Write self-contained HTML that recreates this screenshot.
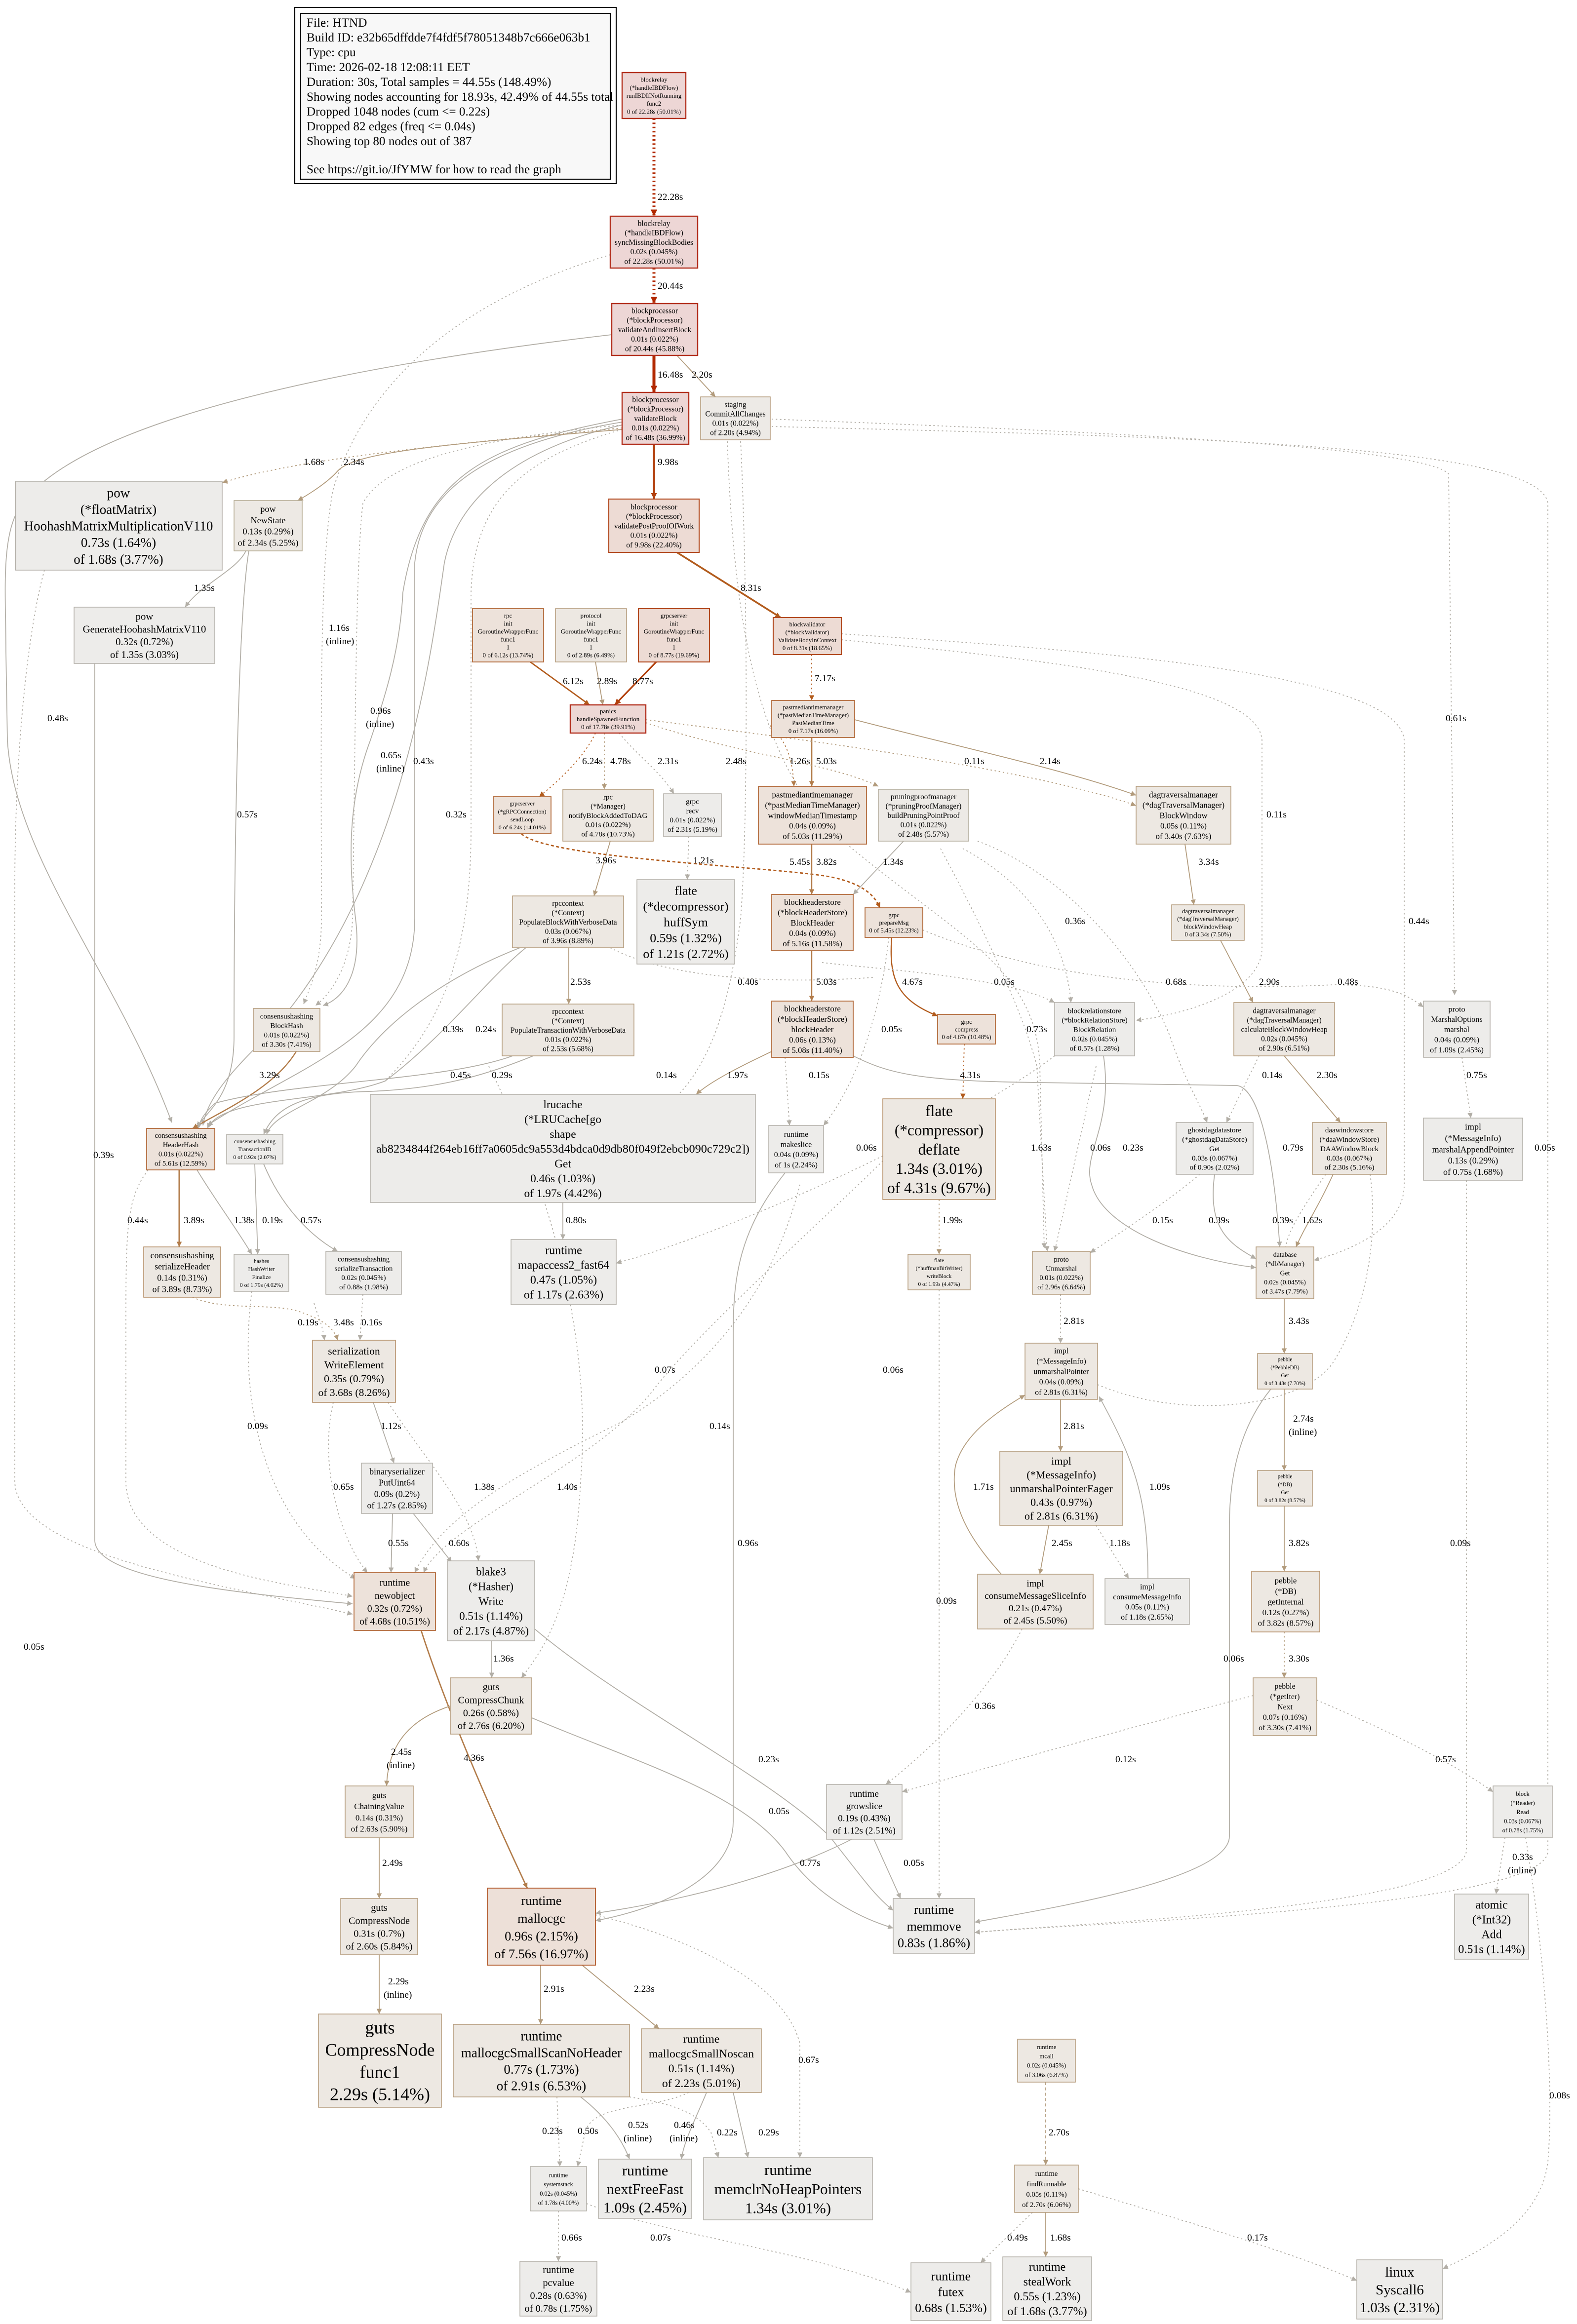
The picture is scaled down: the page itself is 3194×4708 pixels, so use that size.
<!DOCTYPE html>
<html><head><meta charset="utf-8"><style>
html,body{margin:0;padding:0;background:#fff;}
svg{display:block;}
text{font-family:"Liberation Serif",serif;fill:#000;text-anchor:middle;}
.lg text{text-anchor:start;}
.r{fill:#edd6d5;stroke:#b22e1c;stroke-width:0.8}
.o{fill:#eddbd4;stroke:#b2491f;stroke-width:0.7}
.o2{fill:#ede2da;stroke:#b26a3a;stroke-width:0.6}
.t{fill:#ede8e2;stroke:#b29878;stroke-width:0.5}
.g{fill:#edecea;stroke:#b2aea7;stroke-width:0.5}
.e{fill:none;}
.R{stroke:#b22800;} .RO{stroke:#b2400d;} .O{stroke:#b25b1c;} .OT{stroke:#b27c4a;} .T{stroke:#b29b7c;} .G{stroke:#b2aea6;}
.d{stroke-dasharray:1 1.8;}
.dd{stroke-dasharray:2 1.6;}
.l{font-size:6.5px;text-anchor:start;}
</style></head><body>
<svg width="3194" height="4708" viewBox="0 0 1064.667 1569.333" xmlns="http://www.w3.org/2000/svg">
<defs>
<marker id="mR" viewBox="0 0 10 10" refX="10" refY="5" markerUnits="userSpaceOnUse" markerWidth="5" markerHeight="4.5" orient="auto"><path d="M0,0L10,5L0,10z" fill="#b22800"/></marker>
<marker id="mRO" viewBox="0 0 10 10" refX="10" refY="5" markerUnits="userSpaceOnUse" markerWidth="5" markerHeight="4" orient="auto"><path d="M0,0L10,5L0,10z" fill="#b2400d"/></marker>
<marker id="mO" viewBox="0 0 10 10" refX="10" refY="5" markerUnits="userSpaceOnUse" markerWidth="4.5" markerHeight="3.5" orient="auto"><path d="M0,0L10,5L0,10z" fill="#b25b1c"/></marker>
<marker id="mOT" viewBox="0 0 10 10" refX="10" refY="5" markerUnits="userSpaceOnUse" markerWidth="4.5" markerHeight="3.5" orient="auto"><path d="M0,0L10,5L0,10z" fill="#b27c4a"/></marker>
<marker id="mT" viewBox="0 0 10 10" refX="10" refY="5" markerUnits="userSpaceOnUse" markerWidth="4.5" markerHeight="3.5" orient="auto"><path d="M0,0L10,5L0,10z" fill="#b29b7c"/></marker>
<marker id="mG" viewBox="0 0 10 10" refX="10" refY="5" markerUnits="userSpaceOnUse" markerWidth="4.5" markerHeight="3.5" orient="auto"><path d="M0,0L10,5L0,10z" fill="#b2aea6"/></marker>
</defs>

<!-- legend -->
<g class="lg">
<rect x="199" y="5" width="217" height="119" fill="#fff" stroke="#000" stroke-width="0.7"/>
<rect x="203" y="9" width="209" height="112" fill="#f8f8f8" stroke="#000" stroke-width="0.7"/>
<text x="207" y="18" font-size="8.4">File: HTND</text>
<text x="207" y="28" font-size="8.4">Build ID: e32b65dffdde7f4fdf5f78051348b7c666e063b1</text>
<text x="207" y="38" font-size="8.4">Type: cpu</text>
<text x="207" y="48" font-size="8.4">Time: 2026-02-18 12:08:11 EET</text>
<text x="207" y="58" font-size="8.4">Duration: 30s, Total samples = 44.55s (148.49%)</text>
<text x="207" y="68" font-size="8.4">Showing nodes accounting for 18.93s, 42.49% of 44.55s total</text>
<text x="207" y="78" font-size="8.4">Dropped 1048 nodes (cum &lt;= 0.22s)</text>
<text x="207" y="88" font-size="8.4">Dropped 82 edges (freq &lt;= 0.04s)</text>
<text x="207" y="98" font-size="8.4">Showing top 80 nodes out of 387</text>
<text x="207" y="117" font-size="8.4">See https://git.io/JfYMW for how to read the graph</text>
</g>

<!-- EDGES -->
<g stroke-width="0.6">
<path class="e G" d="M413,226 C250,245 60,280 15,340 C0,360 4,400 4,440 L5,500 C10,580 80,660 116,758" marker-end="url(#mG)"/>
<path class="e G d" d="M412,172 C320,200 250,250 225,330 C215,380 217,500 217,620 C217,650 210,665 205,678" marker-end="url(#mG)"/>
<path class="e G d" d="M420,287 C330,295 260,310 245,340 C240,380 240,500 238,620 C237,650 225,670 213,679" marker-end="url(#mG)"/>
<path class="e G" d="M420,283 C330,300 285,320 272,400 C270,440 260,470 250,500 C235,540 235,580 240,620 C245,660 230,675 218,679" marker-end="url(#mG)"/>
<path class="e G" d="M420,285 C330,300 285,330 280,380 L280,620 C280,700 200,720 140,760" marker-end="url(#mG)"/>
<path class="e G" d="M420,287 C360,300 310,330 300,380 C290,450 270,600 180,700 C160,720 140,740 137,760" marker-end="url(#mG)"/>
<path class="e G d" d="M420,290 C350,310 320,340 318,400 L318,560 C318,640 300,690 260,730" />
<path class="e G" d="M64,448 L64,1040 C64,1065 150,1075 238,1083" marker-end="url(#mG)"/>
<path class="e G d" d="M30,385 C20,420 10,500 10,600 L10,1000 C10,1050 150,1070 238,1090" marker-end="url(#mG)"/>
<path class="e G d" d="M100,790 C85,810 85,830 85,900 L85,1000 C85,1060 200,1070 238,1078" marker-end="url(#mG)"/>
<path class="e G d" d="M521,283 C700,290 960,300 978,320 L982,672" marker-end="url(#mG)"/>
<path class="e G d" d="M521,288 C800,295 1040,300 1045,340 L1045,1250 C1045,1290 700,1300 658,1305" marker-end="url(#mG)"/>
<path class="e G d" d="M491,298 C495,400 505,500 560,560 C640,630 700,650 702,720 L705,843" marker-end="url(#mG)"/>
<path class="e G d" d="M500,298 C505,400 505,560 500,620 C490,700 470,740 430,760"/>

<path class="e R d" stroke-width="2" d="M441.5,80 L441.5,146" marker-end="url(#mR)"/>
<path class="e R d" stroke-width="2" d="M441.5,181 L441.5,205" marker-end="url(#mR)"/>
<path class="e R" stroke-width="2" d="M441.5,240 L441.5,265" marker-end="url(#mR)"/>
<path class="e T" d="M457,240 L483,268" marker-end="url(#mT)"/>
<path class="e RO" stroke-width="1.6" d="M441.5,300 L441.5,337" marker-end="url(#mRO)"/>
<path class="e O" stroke-width="1.2" d="M457,373 L527,417" marker-end="url(#mO)"/>
<path class="e T d" d="M420,289 C300,300 200,310 150,326" marker-end="url(#mT)"/>
<path class="e T" d="M420,290 C300,300 240,305 228,318 C222,325 210,333 201,338" marker-end="url(#mT)"/>
<path class="e G" d="M166,372 C160,385 135,395 125,410" marker-end="url(#mG)"/>
<path class="e G" d="M168,372 C160,420 158,600 158,700 C158,740 140,750 133,761" marker-end="url(#mG)"/>

<path class="e O" stroke-width="0.9" d="M358,447 L398,476" marker-end="url(#mO)"/>
<path class="e T" d="M402,447 L407,476" marker-end="url(#mT)"/>
<path class="e RO" stroke-width="1.1" d="M443,447 L415,476" marker-end="url(#mRO)"/>
<path class="e O d" d="M548,442 L548,473" marker-end="url(#mO)"/>
<path class="e G d" d="M568,432 C700,445 850,460 852,500 L852,640 C852,670 800,685 767,689" marker-end="url(#mG)"/>
<path class="e G d" d="M568,428 C750,440 945,455 948,500 L948,800 C948,830 910,845 887,851" marker-end="url(#mG)"/>
<path class="e OT" stroke-width="0.9" d="M548,498 L548,531" marker-end="url(#mOT)"/>
<path class="e T" d="M577,486 C650,505 720,520 767,537" marker-end="url(#mT)"/>
<path class="e T d" d="M436,488 C500,510 560,515 593,531" marker-end="url(#mT)"/>
<path class="e T d" d="M436,486 C550,500 700,520 767,544" marker-end="url(#mT)"/>
<path class="e OT d" d="M520,490 C530,500 535,510 536,531" marker-end="url(#mOT)"/>

<path class="e O d" d="M402,495 C395,510 380,525 364,538" marker-end="url(#mO)"/>
<path class="e T d" d="M408,495 L408,533" marker-end="url(#mT)"/>
<path class="e G d" d="M418,495 C430,510 445,520 455,536" marker-end="url(#mG)"/>
<path class="e O dd" stroke-width="0.9" d="M352,563 C370,580 520,585 560,592 C580,596 590,603 594,613" marker-end="url(#mO)"/>
<path class="e T" d="M412,568 L401,605" marker-end="url(#mT)"/>
<path class="e G d" d="M465,565 L464,594" marker-end="url(#mG)"/>
<path class="e OT" stroke-width="0.8" d="M548,570 L548,604" marker-end="url(#mOT)"/>
<path class="e G" d="M610,568 L576,604" marker-end="url(#mG)"/>
<path class="e T" d="M800,570 L806,611" marker-end="url(#mT)"/>

<path class="e T" d="M384,640 L384,678" marker-end="url(#mT)"/>
<path class="e G d" d="M412,640 C450,660 520,665 590,660"/>
<path class="e OT" stroke-width="0.8" d="M548,642 L548,676" marker-end="url(#mOT)"/>
<path class="e O" stroke-width="0.8" d="M602,633 C600,660 605,675 633,686" marker-end="url(#mO)"/>
<path class="e T" d="M824,635 L846,677" marker-end="url(#mT)"/>
<path class="e G d" d="M650,573 C700,600 720,640 723,677" marker-end="url(#mG)"/>
<path class="e G d" d="M660,568 C720,590 770,650 790,700 C800,730 810,745 815,758" marker-end="url(#mG)"/>
<path class="e G d" d="M623,628 C700,660 800,670 900,665 C940,665 950,672 961,680" marker-end="url(#mG)"/>
<path class="e G d" d="M635,573 C660,620 690,680 700,720 L707,845" marker-end="url(#mG)"/>
<path class="e G d" d="M555,650 C600,655 680,660 712,677" marker-end="url(#mG)"/>
<path class="e G d" d="M600,633 C595,680 580,730 556,760" marker-end="url(#mG)"/>
<path class="e G d" d="M740,720 L712,845" marker-end="url(#mG)"/>

<path class="e OT" stroke-width="0.8" d="M200,710 C185,735 150,750 130,762" marker-end="url(#mOT)"/>
<path class="e G" d="M351,640 C300,660 260,690 240,720 C220,745 185,750 180,766" marker-end="url(#mG)"/>
<path class="e G" d="M355,640 C330,660 300,700 260,730 C220,745 150,740 140,762" marker-end="url(#mG)"/>
<path class="e G" d="M346,713 C300,730 200,730 145,745 C140,750 135,755 134,762" marker-end="url(#mG)"/>
<path class="e G" d="M360,713 C330,725 300,735 250,737 C200,738 185,750 178,766" marker-end="url(#mG)"/>
<path class="e T" d="M521,710 C500,720 480,730 470,739" marker-end="url(#mT)"/>
<path class="e G d" d="M530,714 L533,760" marker-end="url(#mG)"/>
<path class="e O d" d="M651,705 L650,742" marker-end="url(#mO)"/>
<path class="e G d" d="M850,713 L828,758" marker-end="url(#mG)"/>
<path class="e T" d="M867,713 L905,758" marker-end="url(#mT)"/>
<path class="e G d" d="M987,714 L993,755" marker-end="url(#mG)"/>
<path class="e G" d="M576,713 C600,725 620,730 700,731 L835,733 C850,735 860,780 864,842" marker-end="url(#mG)"/>
<path class="e G" d="M745,713 C752,760 730,780 737,800 C745,830 800,850 848,856" marker-end="url(#mG)"/>
<path class="e G d" d="M712,713 C650,760 500,830 416,853" marker-end="url(#mG)"/>

<path class="e OT" stroke-width="1" d="M121,790 L121,842" marker-end="url(#mOT)"/>
<path class="e G" d="M133,790 C145,810 160,830 170,847" marker-end="url(#mG)"/>
<path class="e G" d="M172,786 L174,847" marker-end="url(#mG)"/>
<path class="e G" d="M178,786 C190,815 210,835 228,845" marker-end="url(#mG)"/>
<path class="e G" d="M380,812 L380,837" marker-end="url(#mG)"/>
<path class="e T d" d="M634,810 L634,847" marker-end="url(#mT)"/>
<path class="e G d" d="M810,793 C790,810 760,830 736,846" marker-end="url(#mG)"/>
<path class="e G" d="M820,793 C815,830 830,840 848,850" marker-end="url(#mG)"/>
<path class="e T" d="M900,793 C890,815 880,830 875,842" marker-end="url(#mT)"/>
<path class="e G d" d="M895,793 C880,815 870,830 868,842"/>
<path class="e G d" d="M925,793 C930,830 925,880 900,920 C880,950 800,960 741,935"/>

<path class="e G d" d="M716,874 L716,907" marker-end="url(#mG)"/>
<path class="e T" d="M867,877 L867,914" marker-end="url(#mT)"/>
<path class="e T" d="M716,945 L716,980" marker-end="url(#mT)"/>
<path class="e T" d="M867,938 L867,993" marker-end="url(#mT)"/>
<path class="e T" d="M867,1017 L867,1061" marker-end="url(#mT)"/>
<path class="e T d" d="M867,1102 L867,1133" marker-end="url(#mT)"/>
<path class="e T" d="M708,1030 L702,1063" marker-end="url(#mT)"/>
<path class="e G d" d="M740,1030 L762,1066" marker-end="url(#mG)"/>
<path class="e T" d="M676,1063 C660,1045 640,1020 645,990 C650,970 670,955 692,942" marker-end="url(#mT)"/>
<path class="e G" d="M775,1066 C775,1010 765,985 742,943" marker-end="url(#mG)"/>

<path class="e T d" d="M130,876 C150,885 180,880 200,885 C215,890 225,895 228,905" marker-end="url(#mT)"/>
<path class="e G d" d="M245,874 L243,905" marker-end="url(#mG)"/>
<path class="e G d" d="M212,880 C215,890 218,895 219,905" marker-end="url(#mG)"/>
<path class="e G" d="M252,947 L266,988" marker-end="url(#mG)"/>
<path class="e G d" d="M225,947 C215,990 230,1040 248,1062" marker-end="url(#mG)"/>
<path class="e G d" d="M262,947 C290,990 320,1020 323,1054" marker-end="url(#mG)"/>
<path class="e G d" d="M330,720 C370,800 400,900 392,1000 C388,1080 370,1110 352,1133" marker-end="url(#mG)"/>
<path class="e G d" d="M170,872 C160,950 180,1030 240,1066" marker-end="url(#mG)"/>
<path class="e G d" d="M540,800 C520,880 470,930 420,960 C360,990 300,1020 280,1062" marker-end="url(#mG)"/>
<path class="e G d" d="M600,780 C560,820 470,900 440,940 C400,990 300,1030 286,1062" marker-end="url(#mG)"/>
<path class="e G" d="M265,1022 L264,1062" marker-end="url(#mG)"/>
<path class="e G" d="M279,1022 L305,1055" marker-end="url(#mG)"/>
<path class="e G" d="M530,792 C500,830 495,860 495,900 L495,1230 C495,1270 440,1290 402,1297" marker-end="url(#mG)"/>

<path class="e OT" stroke-width="0.9" d="M284,1100 C300,1150 330,1220 356,1275" marker-end="url(#mOT)"/>
<path class="e G" d="M332,1108 L332,1133" marker-end="url(#mG)"/>
<path class="e G" d="M361,1100 C420,1150 520,1200 560,1240 C580,1265 590,1280 603,1290" marker-end="url(#mG)"/>
<path class="e G" d="M359,1160 C430,1190 500,1210 530,1250 C550,1280 580,1295 603,1302" marker-end="url(#mG)"/>
<path class="e T" d="M304,1152 C280,1160 262,1175 261,1206" marker-end="url(#mT)"/>
<path class="e T" d="M256,1241 L256,1282" marker-end="url(#mT)"/>
<path class="e T" d="M256,1320 L256,1360" marker-end="url(#mT)"/>
<path class="e G" d="M575,1242 C520,1270 450,1285 402,1292" marker-end="url(#mG)"/>
<path class="e G" d="M590,1242 L608,1282" marker-end="url(#mG)"/>
<path class="e G d" d="M846,1145 C750,1170 680,1190 609,1210" marker-end="url(#mG)"/>
<path class="e G d" d="M690,1100 C670,1140 630,1180 598,1205" marker-end="url(#mG)"/>
<path class="e G d" d="M889,1148 C940,1170 980,1190 1008,1210" marker-end="url(#mG)"/>
<path class="e G d" d="M1016,1241 L1010,1279" marker-end="url(#mG)"/>
<path class="e G d" d="M1030,1241 C1040,1300 1050,1400 1045,1460 C1040,1500 1000,1520 974,1532" marker-end="url(#mG)"/>
<path class="e G" d="M858,938 C840,960 830,990 830,1030 L830,1240 C830,1270 700,1290 658,1298" marker-end="url(#mG)"/>
<path class="e G d" d="M990,797 L990,1250 C985,1290 700,1300 658,1305" marker-end="url(#mG)"/>
<path class="e G d" d="M634,871 L634,1282" marker-end="url(#mG)"/>

<path class="e T" d="M365,1327 L365,1367" marker-end="url(#mT)"/>
<path class="e T" d="M393,1327 L445,1370" marker-end="url(#mT)"/>
<path class="e G d" d="M402,1293 C470,1310 530,1340 540,1380 L540,1457" marker-end="url(#mG)"/>
<path class="e G d" d="M376,1416 L378,1463" marker-end="url(#mG)"/>
<path class="e G" d="M392,1416 C410,1430 420,1445 425,1458" marker-end="url(#mG)"/>
<path class="e G d" d="M465,1413 C440,1425 400,1420 395,1440 L390,1463" marker-end="url(#mG)"/>
<path class="e G" d="M477,1413 C470,1430 462,1445 460,1458" marker-end="url(#mG)"/>
<path class="e G d" d="M425,1416 C450,1420 470,1425 480,1440 L485,1457" marker-end="url(#mG)"/>
<path class="e G" d="M495,1413 L505,1457" marker-end="url(#mG)"/>
<path class="e G d" d="M377,1493 L377,1527" marker-end="url(#mG)"/>
<path class="e G d" d="M396,1488 C450,1510 550,1520 615,1548" marker-end="url(#mG)"/>
<path class="e T dd" d="M706,1406 L706,1462" marker-end="url(#mT)"/>
<path class="e G d" d="M697,1494 L662,1528" marker-end="url(#mG)"/>
<path class="e T" d="M706,1494 L706,1524" marker-end="url(#mT)"/>
<path class="e G d" d="M728,1478 C800,1500 870,1520 916,1540" marker-end="url(#mG)"/>
</g>

<!-- EDGE LABELS -->
<g>
<text class="l" x="444" y="135">22.28s</text>
<text class="l" x="444" y="195">20.44s</text>
<text class="l" x="444" y="255">16.48s</text>
<text class="l" x="467" y="255">2.20s</text>
<text class="l" x="444" y="314">9.98s</text>
<text class="l" x="500" y="399">8.31s</text>
<text class="l" x="205" y="314">1.68s</text>
<text class="l" x="232" y="314">2.34s</text>
<text class="l" x="131" y="399">1.35s</text>
<text class="l" x="160" y="552">0.57s</text>
<text class="l" x="32" y="487">0.48s</text>
<text class="l" x="222" y="426">1.16s</text>
<text class="l" x="220" y="435">(inline)</text>
<text class="l" x="250" y="482">0.96s</text>
<text class="l" x="247" y="491">(inline)</text>
<text class="l" x="257" y="512">0.65s</text>
<text class="l" x="254" y="521">(inline)</text>
<text class="l" x="279" y="516">0.43s</text>
<text class="l" x="301" y="552">0.32s</text>
<text class="l" x="63" y="782">0.39s</text>
<text class="l" x="16" y="1114">0.05s</text>
<text class="l" x="86" y="826">0.44s</text>
<text class="l" x="976" y="487">0.61s</text>
<text class="l" x="1036" y="777">0.05s</text>
<text class="l" x="380" y="462">6.12s</text>
<text class="l" x="403" y="462">2.89s</text>
<text class="l" x="427" y="462">8.77s</text>
<text class="l" x="550" y="460">7.17s</text>
<text class="l" x="855" y="552">0.11s</text>
<text class="l" x="951" y="624">0.44s</text>
<text class="l" x="551" y="516">5.03s</text>
<text class="l" x="533" y="516">1.26s</text>
<text class="l" x="702" y="516">2.14s</text>
<text class="l" x="651" y="516">0.11s</text>
<text class="l" x="393" y="516">6.24s</text>
<text class="l" x="412" y="516">4.78s</text>
<text class="l" x="444" y="516">2.31s</text>
<text class="l" x="490" y="516">2.48s</text>
<text class="l" x="533" y="584">5.45s</text>
<text class="l" x="402" y="583">3.96s</text>
<text class="l" x="468" y="583">1.21s</text>
<text class="l" x="551" y="584">3.82s</text>
<text class="l" x="596" y="584">1.34s</text>
<text class="l" x="809" y="584">3.34s</text>
<text class="l" x="385" y="665">2.53s</text>
<text class="l" x="498" y="665">0.40s</text>
<text class="l" x="551" y="665">5.03s</text>
<text class="l" x="609" y="665">4.67s</text>
<text class="l" x="671" y="665">0.05s</text>
<text class="l" x="719" y="624">0.36s</text>
<text class="l" x="787" y="665">0.68s</text>
<text class="l" x="850" y="665">2.90s</text>
<text class="l" x="903" y="665">0.48s</text>
<text class="l" x="595" y="697">0.05s</text>
<text class="l" x="693" y="697">0.73s</text>
<text class="l" x="299" y="697">0.39s</text>
<text class="l" x="321" y="697">0.24s</text>
<text class="l" x="175" y="728">3.29s</text>
<text class="l" x="304" y="728">0.45s</text>
<text class="l" x="332" y="728">0.29s</text>
<text class="l" x="443" y="728">0.14s</text>
<text class="l" x="491" y="728">1.97s</text>
<text class="l" x="546" y="728">0.15s</text>
<text class="l" x="648" y="728">4.31s</text>
<text class="l" x="852" y="728">0.14s</text>
<text class="l" x="889" y="728">2.30s</text>
<text class="l" x="990" y="728">0.75s</text>
<text class="l" x="578" y="777">0.06s</text>
<text class="l" x="696" y="777">1.63s</text>
<text class="l" x="736" y="777">0.06s</text>
<text class="l" x="758" y="777">0.23s</text>
<text class="l" x="866" y="777">0.79s</text>
<text class="l" x="124" y="826">3.89s</text>
<text class="l" x="158" y="826">1.38s</text>
<text class="l" x="177" y="826">0.19s</text>
<text class="l" x="203" y="826">0.57s</text>
<text class="l" x="382" y="826">0.80s</text>
<text class="l" x="636" y="826">1.99s</text>
<text class="l" x="778" y="826">0.15s</text>
<text class="l" x="816" y="826">0.39s</text>
<text class="l" x="859" y="826">0.39s</text>
<text class="l" x="879" y="826">1.62s</text>
<text class="l" x="718" y="894">2.81s</text>
<text class="l" x="870" y="894">3.43s</text>
<text class="l" x="201" y="895">0.19s</text>
<text class="l" x="225" y="895">3.48s</text>
<text class="l" x="244" y="895">0.16s</text>
<text class="l" x="442" y="927">0.07s</text>
<text class="l" x="596" y="927">0.06s</text>
<text class="l" x="718" y="965">2.81s</text>
<text class="l" x="873" y="960">2.74s</text>
<text class="l" x="870" y="969">(inline)</text>
<text class="l" x="257" y="965">1.12s</text>
<text class="l" x="167" y="965">0.09s</text>
<text class="l" x="479" y="965">0.14s</text>
<text class="l" x="870" y="1044">3.82s</text>
<text class="l" x="710" y="1044">2.45s</text>
<text class="l" x="749" y="1044">1.18s</text>
<text class="l" x="657" y="1006">1.71s</text>
<text class="l" x="776" y="1006">1.09s</text>
<text class="l" x="225" y="1006">0.65s</text>
<text class="l" x="320" y="1006">1.38s</text>
<text class="l" x="376" y="1006">1.40s</text>
<text class="l" x="262" y="1044">0.55s</text>
<text class="l" x="303" y="1044">0.60s</text>
<text class="l" x="498" y="1044">0.96s</text>
<text class="l" x="979" y="1044">0.09s</text>
<text class="l" x="632" y="1083">0.09s</text>
<text class="l" x="870" y="1122">3.30s</text>
<text class="l" x="333" y="1122">1.36s</text>
<text class="l" x="826" y="1122">0.06s</text>
<text class="l" x="658" y="1154">0.36s</text>
<text class="l" x="313" y="1189">4.36s</text>
<text class="l" x="264" y="1185">2.45s</text>
<text class="l" x="261" y="1194">(inline)</text>
<text class="l" x="512" y="1190">0.23s</text>
<text class="l" x="753" y="1190">0.12s</text>
<text class="l" x="969" y="1190">0.57s</text>
<text class="l" x="519" y="1225">0.05s</text>
<text class="l" x="258" y="1260">2.49s</text>
<text class="l" x="540" y="1260">0.77s</text>
<text class="l" x="610" y="1260">0.05s</text>
<text class="l" x="1021" y="1256">0.33s</text>
<text class="l" x="1018" y="1265">(inline)</text>
<text class="l" x="262" y="1340">2.29s</text>
<text class="l" x="259" y="1349">(inline)</text>
<text class="l" x="367" y="1345">2.91s</text>
<text class="l" x="428" y="1345">2.23s</text>
<text class="l" x="539" y="1393">0.67s</text>
<text class="l" x="1046" y="1417">0.08s</text>
<text class="l" x="366" y="1441">0.23s</text>
<text class="l" x="390" y="1441">0.50s</text>
<text class="l" x="424" y="1437">0.52s</text>
<text class="l" x="421" y="1446">(inline)</text>
<text class="l" x="455" y="1437">0.46s</text>
<text class="l" x="452" y="1446">(inline)</text>
<text class="l" x="484" y="1442">0.22s</text>
<text class="l" x="512" y="1442">0.29s</text>
<text class="l" x="708" y="1442">2.70s</text>
<text class="l" x="379" y="1513">0.66s</text>
<text class="l" x="439" y="1513">0.07s</text>
<text class="l" x="680" y="1513">0.49s</text>
<text class="l" x="709" y="1513">1.68s</text>
<text class="l" x="842" y="1513">0.17s</text>
</g>

<!-- NODES -->
<g>
<rect class="r" x="420" y="49" width="43" height="31"/>
<text x="441.5" y="55.2" font-size="4.3"><tspan x="441.5">blockrelay</tspan><tspan x="441.5" dy="5.4">(*handleIBDFlow)</tspan><tspan x="441.5" dy="5.4">runIBDIfNotRunning</tspan><tspan x="441.5" dy="5.4">func2</tspan><tspan x="441.5" dy="5.4">0 of 22.28s (50.01%)</tspan></text>

<rect class="r" x="412" y="146" width="59" height="35"/>
<text x="441.5" y="152.5" font-size="5.2"><tspan x="441.5">blockrelay</tspan><tspan x="441.5" dy="6.4">(*handleIBDFlow)</tspan><tspan x="441.5" dy="6.4">syncMissingBlockBodies</tspan><tspan x="441.5" dy="6.4">0.02s (0.045%)</tspan><tspan x="441.5" dy="6.4">of 22.28s (50.01%)</tspan></text>

<rect class="r" x="413" y="205" width="58" height="35"/>
<text x="442" y="211.5" font-size="5.2"><tspan x="442">blockprocessor</tspan><tspan x="442" dy="6.4">(*blockProcessor)</tspan><tspan x="442" dy="6.4">validateAndInsertBlock</tspan><tspan x="442" dy="6.4">0.01s (0.022%)</tspan><tspan x="442" dy="6.4">of 20.44s (45.88%)</tspan></text>

<rect class="r" x="420" y="265" width="45" height="35"/>
<text x="442.5" y="271.5" font-size="5.2"><tspan x="442.5">blockprocessor</tspan><tspan x="442.5" dy="6.4">(*blockProcessor)</tspan><tspan x="442.5" dy="6.4">validateBlock</tspan><tspan x="442.5" dy="6.4">0.01s (0.022%)</tspan><tspan x="442.5" dy="6.4">of 16.48s (36.99%)</tspan></text>

<rect class="t" x="473" y="268" width="47" height="29" style="fill:#edeae6"/>
<text x="496.5" y="274.9" font-size="5.1"><tspan x="496.5">staging</tspan><tspan x="496.5" dy="6.3">CommitAllChanges</tspan><tspan x="496.5" dy="6.3">0.01s (0.022%)</tspan><tspan x="496.5" dy="6.3">of 2.20s (4.94%)</tspan></text>

<rect class="o" x="411" y="337" width="61" height="36"/>
<text x="441.5" y="344" font-size="5.2"><tspan x="441.5">blockprocessor</tspan><tspan x="441.5" dy="6.4">(*blockProcessor)</tspan><tspan x="441.5" dy="6.4">validatePostProofOfWork</tspan><tspan x="441.5" dy="6.4">0.01s (0.022%)</tspan><tspan x="441.5" dy="6.4">of 9.98s (22.40%)</tspan></text>

<rect class="g" x="10.5" y="325" width="139.5" height="60"/>
<text x="80" y="335.8" font-size="9"><tspan x="80">pow</tspan><tspan x="80" dy="11.2">(*floatMatrix)</tspan><tspan x="80" dy="11.2">HoohashMatrixMultiplicationV110</tspan><tspan x="80" dy="11.2">0.73s (1.64%)</tspan><tspan x="80" dy="11.2">of 1.68s (3.77%)</tspan></text>

<rect class="g" x="158" y="338" width="46" height="34" style="fill:#ede9e4;stroke:#b2a88f"/>
<text x="181" y="345.7" font-size="6.1"><tspan x="181">pow</tspan><tspan x="181" dy="7.6">NewState</tspan><tspan x="181" dy="7.6">0.13s (0.29%)</tspan><tspan x="181" dy="7.6">of 2.34s (5.25%)</tspan></text>

<rect class="g" x="50" y="410" width="95" height="38"/>
<text x="97.5" y="418.5" font-size="6.9"><tspan x="97.5">pow</tspan><tspan x="97.5" dy="8.6">GenerateHoohashMatrixV110</tspan><tspan x="97.5" dy="8.6">0.32s (0.72%)</tspan><tspan x="97.5" dy="8.6">of 1.35s (3.03%)</tspan></text>

<rect class="o2" x="319" y="411" width="48" height="36"/>
<text x="343" y="417.1" font-size="4.3"><tspan x="343">rpc</tspan><tspan x="343" dy="5.36">init</tspan><tspan x="343" dy="5.36">GoroutineWrapperFunc</tspan><tspan x="343" dy="5.36">func1</tspan><tspan x="343" dy="5.36">1</tspan><tspan x="343" dy="5.36">0 of 6.12s (13.74%)</tspan></text>

<rect class="t" x="375" y="411" width="48" height="36"/>
<text x="399" y="417.1" font-size="4.3"><tspan x="399">protocol</tspan><tspan x="399" dy="5.36">init</tspan><tspan x="399" dy="5.36">GoroutineWrapperFunc</tspan><tspan x="399" dy="5.36">func1</tspan><tspan x="399" dy="5.36">1</tspan><tspan x="399" dy="5.36">0 of 2.89s (6.49%)</tspan></text>

<rect class="o" x="431" y="411" width="48" height="36"/>
<text x="455" y="417.1" font-size="4.3"><tspan x="455">grpcserver</tspan><tspan x="455" dy="5.36">init</tspan><tspan x="455" dy="5.36">GoroutineWrapperFunc</tspan><tspan x="455" dy="5.36">func1</tspan><tspan x="455" dy="5.36">1</tspan><tspan x="455" dy="5.36">0 of 8.77s (19.69%)</tspan></text>

<rect class="o" x="522" y="417" width="46" height="25"/>
<text x="545" y="423" font-size="4.2"><tspan x="545">blockvalidator</tspan><tspan x="545" dy="5.36">(*blockValidator)</tspan><tspan x="545" dy="5.36">ValidateBodyInContext</tspan><tspan x="545" dy="5.36">0 of 8.31s (18.65%)</tspan></text>

<rect class="o2" x="521" y="473" width="56" height="25"/>
<text x="549" y="479" font-size="4.2"><tspan x="549">pastmediantimemanager</tspan><tspan x="549" dy="5.36">(*pastMedianTimeManager)</tspan><tspan x="549" dy="5.36">PastMedianTime</tspan><tspan x="549" dy="5.36">0 of 7.17s (16.09%)</tspan></text>

<rect class="r" x="385" y="476" width="51" height="19" style="fill:#edd8d5"/>
<text x="410.5" y="481.6" font-size="4.3"><tspan x="410.5">panics</tspan><tspan x="410.5" dy="5.36">handleSpawnedFunction</tspan><tspan x="410.5" dy="5.36">0 of 17.78s (39.91%)</tspan></text>

<rect class="o2" x="333" y="538" width="39" height="25"/>
<text x="352.5" y="543.9" font-size="4"><tspan x="352.5">grpcserver</tspan><tspan x="352.5" dy="5.36">(*gRPCConnection)</tspan><tspan x="352.5" dy="5.36">sendLoop</tspan><tspan x="352.5" dy="5.36">0 of 6.24s (14.01%)</tspan></text>

<rect class="t" x="380" y="533" width="61" height="35"/>
<text x="410.5" y="539.8" font-size="5"><tspan x="410.5">rpc</tspan><tspan x="410.5" dy="6.25">(*Manager)</tspan><tspan x="410.5" dy="6.25">notifyBlockAddedToDAG</tspan><tspan x="410.5" dy="6.25">0.01s (0.022%)</tspan><tspan x="410.5" dy="6.25">of 4.78s (10.73%)</tspan></text>

<rect class="g" x="448" y="536" width="39" height="29"/>
<text x="467.5" y="542.9" font-size="5"><tspan x="467.5">grpc</tspan><tspan x="467.5" dy="6.25">recv</tspan><tspan x="467.5" dy="6.25">0.01s (0.022%)</tspan><tspan x="467.5" dy="6.25">of 2.31s (5.19%)</tspan></text>

<rect class="o2" x="512" y="531" width="73" height="39"/>
<text x="548.5" y="538.5" font-size="5.6"><tspan x="548.5">pastmediantimemanager</tspan><tspan x="548.5" dy="7">(*pastMedianTimeManager)</tspan><tspan x="548.5" dy="7">windowMedianTimestamp</tspan><tspan x="548.5" dy="7">0.04s (0.09%)</tspan><tspan x="548.5" dy="7">of 5.03s (11.29%)</tspan></text>

<rect class="t" x="593" y="533" width="61" height="35" style="fill:#edeae6;stroke:#b2ab9c"/>
<text x="623.5" y="539.6" font-size="5.1"><tspan x="623.5">pruningproofmanager</tspan><tspan x="623.5" dy="6.35">(*pruningProofManager)</tspan><tspan x="623.5" dy="6.35">buildPruningPointProof</tspan><tspan x="623.5" dy="6.35">0.01s (0.022%)</tspan><tspan x="623.5" dy="6.35">of 2.48s (5.57%)</tspan></text>

<rect class="t" x="767" y="531" width="64" height="39"/>
<text x="799" y="538.5" font-size="5.6"><tspan x="799">dagtraversalmanager</tspan><tspan x="799" dy="7">(*dagTraversalManager)</tspan><tspan x="799" dy="7">BlockWindow</tspan><tspan x="799" dy="7">0.05s (0.11%)</tspan><tspan x="799" dy="7">of 3.40s (7.63%)</tspan></text>

<rect class="t" x="346" y="605" width="75" height="35"/>
<text x="383.5" y="611.7" font-size="5.1"><tspan x="383.5">rpccontext</tspan><tspan x="383.5" dy="6.3">(*Context)</tspan><tspan x="383.5" dy="6.3">PopulateBlockWithVerboseData</tspan><tspan x="383.5" dy="6.3">0.03s (0.067%)</tspan><tspan x="383.5" dy="6.3">of 3.96s (8.89%)</tspan></text>

<rect class="g" x="430" y="594" width="66" height="57"/>
<text x="463" y="604.1" font-size="8.6"><tspan x="463">flate</tspan><tspan x="463" dy="10.7">(*decompressor)</tspan><tspan x="463" dy="10.7">huffSym</tspan><tspan x="463" dy="10.7">0.59s (1.32%)</tspan><tspan x="463" dy="10.7">of 1.21s (2.72%)</tspan></text>

<rect class="o2" x="521" y="604" width="55" height="38"/>
<text x="548.5" y="611" font-size="5.6"><tspan x="548.5">blockheaderstore</tspan><tspan x="548.5" dy="7">(*blockHeaderStore)</tspan><tspan x="548.5" dy="7">BlockHeader</tspan><tspan x="548.5" dy="7">0.04s (0.09%)</tspan><tspan x="548.5" dy="7">of 5.16s (11.58%)</tspan></text>

<rect class="o2" x="584" y="613" width="39" height="20"/>
<text x="603.5" y="619.3" font-size="4.2"><tspan x="603.5">grpc</tspan><tspan x="603.5" dy="5.2">prepareMsg</tspan><tspan x="603.5" dy="5.2">0 of 5.45s (12.23%)</tspan></text>

<rect class="t" x="791" y="611" width="49" height="24"/>
<text x="815.5" y="616.7" font-size="4.2"><tspan x="815.5">dagtraversalmanager</tspan><tspan x="815.5" dy="5.2">(*dagTraversalManager)</tspan><tspan x="815.5" dy="5.2">blockWindowHeap</tspan><tspan x="815.5" dy="5.2">0 of 3.34s (7.50%)</tspan></text>

<rect class="t" x="339" y="678" width="89" height="35"/>
<text x="383.5" y="684.7" font-size="5.1"><tspan x="383.5">rpccontext</tspan><tspan x="383.5" dy="6.3">(*Context)</tspan><tspan x="383.5" dy="6.3">PopulateTransactionWithVerboseData</tspan><tspan x="383.5" dy="6.3">0.01s (0.022%)</tspan><tspan x="383.5" dy="6.3">of 2.53s (5.68%)</tspan></text>

<rect class="t" x="171" y="681" width="45" height="29"/>
<text x="193.5" y="687.9" font-size="5"><tspan x="193.5">consensushashing</tspan><tspan x="193.5" dy="6.3">BlockHash</tspan><tspan x="193.5" dy="6.3">0.01s (0.022%)</tspan><tspan x="193.5" dy="6.3">of 3.30s (7.41%)</tspan></text>

<rect class="o2" x="521" y="676" width="55" height="38"/>
<text x="548.5" y="683" font-size="5.6"><tspan x="548.5">blockheaderstore</tspan><tspan x="548.5" dy="7">(*blockHeaderStore)</tspan><tspan x="548.5" dy="7">blockHeader</tspan><tspan x="548.5" dy="7">0.06s (0.13%)</tspan><tspan x="548.5" dy="7">of 5.08s (11.40%)</tspan></text>

<rect class="o2" x="633" y="685" width="39" height="20"/>
<text x="652.5" y="691.3" font-size="4.2"><tspan x="652.5">grpc</tspan><tspan x="652.5" dy="5.2">compress</tspan><tspan x="652.5" dy="5.2">0 of 4.67s (10.48%)</tspan></text>

<rect class="g" x="712" y="677" width="54" height="36"/>
<text x="739" y="684.1" font-size="5"><tspan x="739">blockrelationstore</tspan><tspan x="739" dy="6.35">(*blockRelationStore)</tspan><tspan x="739" dy="6.35">BlockRelation</tspan><tspan x="739" dy="6.35">0.02s (0.045%)</tspan><tspan x="739" dy="6.35">of 0.57s (1.28%)</tspan></text>

<rect class="t" x="833" y="677" width="68" height="36"/>
<text x="867" y="684.1" font-size="5.1"><tspan x="867">dagtraversalmanager</tspan><tspan x="867" dy="6.35">(*dagTraversalManager)</tspan><tspan x="867" dy="6.35">calculateBlockWindowHeap</tspan><tspan x="867" dy="6.35">0.02s (0.045%)</tspan><tspan x="867" dy="6.35">of 2.90s (6.51%)</tspan></text>

<rect class="g" x="961" y="676" width="45" height="38"/>
<text x="983.5" y="683.1" font-size="5.4"><tspan x="983.5">proto</tspan><tspan x="983.5" dy="6.9">MarshalOptions</tspan><tspan x="983.5" dy="6.9">marshal</tspan><tspan x="983.5" dy="6.9">0.04s (0.09%)</tspan><tspan x="983.5" dy="6.9">of 1.09s (2.45%)</tspan></text>

<rect class="o2" x="99" y="762" width="46" height="28"/>
<text x="122" y="768.4" font-size="4.9"><tspan x="122">consensushashing</tspan><tspan x="122" dy="6.25">HeaderHash</tspan><tspan x="122" dy="6.25">0.01s (0.022%)</tspan><tspan x="122" dy="6.25">of 5.61s (12.59%)</tspan></text>

<rect class="g" x="153" y="766" width="38" height="20"/>
<text x="172" y="772" font-size="3.9"><tspan x="172">consensushashing</tspan><tspan x="172" dy="5.36">TransactionID</tspan><tspan x="172" dy="5.36">0 of 0.92s (2.07%)</tspan></text>

<rect class="g" x="250" y="739" width="260" height="73"/>
<text x="380" y="748.3" font-size="7.8"><tspan x="380">lrucache</tspan><tspan x="380" dy="10">(*LRUCache[go</tspan><tspan x="380" dy="10">shape</tspan></text>
<text x="380" y="778.3" font-size="7.8" textLength="252" lengthAdjust="spacingAndGlyphs">ab8234844f264eb16ff7a0605dc9a553d4bdca0d9db80f049f2ebcb090c729c2])</text>
<text x="380" y="788.3" font-size="7.8"><tspan x="380">Get</tspan><tspan x="380" dy="10">0.46s (1.03%)</tspan><tspan x="380" dy="10">of 1.97s (4.42%)</tspan></text>

<rect class="g" x="519" y="760" width="37" height="32"/>
<text x="537.5" y="767.6" font-size="5.3"><tspan x="537.5">runtime</tspan><tspan x="537.5" dy="6.9">makeslice</tspan><tspan x="537.5" dy="6.9">0.04s (0.09%)</tspan><tspan x="537.5" dy="6.9">of 1s (2.24%)</tspan></text>

<rect class="t" x="596" y="742" width="76" height="68" style="stroke:#b28a62"/>
<text x="634" y="753.6" font-size="10.4"><tspan x="634">flate</tspan><tspan x="634" dy="13">(*compressor)</tspan><tspan x="634" dy="13">deflate</tspan><tspan x="634" dy="13">1.34s (3.01%)</tspan><tspan x="634" dy="13">of 4.31s (9.67%)</tspan></text>

<rect class="g" x="794" y="758" width="52" height="35"/>
<text x="820" y="764.7" font-size="5"><tspan x="820">ghostdagdatastore</tspan><tspan x="820" dy="6.3">(*ghostdagDataStore)</tspan><tspan x="820" dy="6.3">Get</tspan><tspan x="820" dy="6.3">0.03s (0.067%)</tspan><tspan x="820" dy="6.3">of 0.90s (2.02%)</tspan></text>

<rect class="t" x="886" y="758" width="50" height="35"/>
<text x="911" y="764.7" font-size="5"><tspan x="911">daawindowstore</tspan><tspan x="911" dy="6.3">(*daaWindowStore)</tspan><tspan x="911" dy="6.3">DAAWindowBlock</tspan><tspan x="911" dy="6.3">0.03s (0.067%)</tspan><tspan x="911" dy="6.3">of 2.30s (5.16%)</tspan></text>

<rect class="g" x="961" y="755" width="67" height="42"/>
<text x="994.5" y="762.9" font-size="6"><tspan x="994.5">impl</tspan><tspan x="994.5" dy="7.6">(*MessageInfo)</tspan><tspan x="994.5" dy="7.6">marshalAppendPointer</tspan><tspan x="994.5" dy="7.6">0.13s (0.29%)</tspan><tspan x="994.5" dy="7.6">of 0.75s (1.68%)</tspan></text>

<rect class="t" x="97" y="842" width="52" height="34" style="stroke:#b28a62"/>
<text x="123" y="849.6" font-size="6"><tspan x="123">consensushashing</tspan><tspan x="123" dy="7.65">serializeHeader</tspan><tspan x="123" dy="7.65">0.14s (0.31%)</tspan><tspan x="123" dy="7.65">of 3.89s (8.73%)</tspan></text>

<rect class="g" x="158" y="847" width="37" height="25"/>
<text x="176.5" y="852.8" font-size="3.9"><tspan x="176.5">hashes</tspan><tspan x="176.5" dy="5.4">HashWriter</tspan><tspan x="176.5" dy="5.4">Finalize</tspan><tspan x="176.5" dy="5.4">0 of 1.79s (4.02%)</tspan></text>

<rect class="g" x="220" y="845" width="51" height="29"/>
<text x="245.5" y="851.8" font-size="4.9"><tspan x="245.5">consensushashing</tspan><tspan x="245.5" dy="6.3">serializeTransaction</tspan><tspan x="245.5" dy="6.3">0.02s (0.045%)</tspan><tspan x="245.5" dy="6.3">of 0.88s (1.98%)</tspan></text>

<rect class="g" x="345" y="837" width="71" height="44"/>
<text x="380.5" y="846.8" font-size="8"><tspan x="380.5">runtime</tspan><tspan x="380.5" dy="10">mapaccess2_fast64</tspan><tspan x="380.5" dy="10">0.47s (1.05%)</tspan><tspan x="380.5" dy="10">of 1.17s (2.63%)</tspan></text>

<rect class="t" x="613" y="847" width="42" height="24"/>
<text x="634" y="852.4" font-size="3.8"><tspan x="634">flate</tspan><tspan x="634" dy="5.3">(*huffmanBitWriter)</tspan><tspan x="634" dy="5.3">writeBlock</tspan><tspan x="634" dy="5.3">0 of 1.99s (4.47%)</tspan></text>

<rect class="t" x="697" y="845" width="39" height="29"/>
<text x="716.5" y="852" font-size="4.8"><tspan x="716.5">proto</tspan><tspan x="716.5" dy="6.2">Unmarshal</tspan><tspan x="716.5" dy="6.2">0.01s (0.022%)</tspan><tspan x="716.5" dy="6.2">of 2.96s (6.64%)</tspan></text>

<rect class="t" x="848" y="842" width="39" height="35"/>
<text x="867.5" y="848.7" font-size="4.6"><tspan x="867.5">database</tspan><tspan x="867.5" dy="6.2">(*dbManager)</tspan><tspan x="867.5" dy="6.2">Get</tspan><tspan x="867.5" dy="6.2">0.02s (0.045%)</tspan><tspan x="867.5" dy="6.2">of 3.47s (7.79%)</tspan></text>

<rect class="t" x="211" y="905" width="56" height="42" style="stroke:#b28a62"/>
<text x="239" y="914.7" font-size="7.2"><tspan x="239">serialization</tspan><tspan x="239" dy="9.3">WriteElement</tspan><tspan x="239" dy="9.3">0.35s (0.79%)</tspan><tspan x="239" dy="9.3">of 3.68s (8.26%)</tspan></text>

<rect class="t" x="692" y="907" width="49" height="38"/>
<text x="716.5" y="913.9" font-size="5.3"><tspan x="716.5">impl</tspan><tspan x="716.5" dy="7">(*MessageInfo)</tspan><tspan x="716.5" dy="7">unmarshalPointer</tspan><tspan x="716.5" dy="7">0.04s (0.09%)</tspan><tspan x="716.5" dy="7">of 2.81s (6.31%)</tspan></text>

<rect class="t" x="849" y="914" width="37" height="24"/>
<text x="867.5" y="919.2" font-size="3.7"><tspan x="867.5">pebble</tspan><tspan x="867.5" dy="5.4">(*PebbleDB)</tspan><tspan x="867.5" dy="5.4">Get</tspan><tspan x="867.5" dy="5.4">0 of 3.43s (7.70%)</tspan></text>

<rect class="g" x="244" y="988" width="48" height="34"/>
<text x="268" y="995.6" font-size="6"><tspan x="268">binaryserializer</tspan><tspan x="268" dy="7.65">PutUint64</tspan><tspan x="268" dy="7.65">0.09s (0.2%)</tspan><tspan x="268" dy="7.65">of 1.27s (2.85%)</tspan></text>

<rect class="t" x="675" y="980" width="83" height="50"/>
<text x="716.5" y="989" font-size="7.4"><tspan x="716.5">impl</tspan><tspan x="716.5" dy="9.3">(*MessageInfo)</tspan><tspan x="716.5" dy="9.3">unmarshalPointerEager</tspan><tspan x="716.5" dy="9.3">0.43s (0.97%)</tspan><tspan x="716.5" dy="9.3">of 2.81s (6.31%)</tspan></text>

<rect class="t" x="849" y="993" width="37" height="24"/>
<text x="867.5" y="998.2" font-size="3.7"><tspan x="867.5">pebble</tspan><tspan x="867.5" dy="5.4">(*DB)</tspan><tspan x="867.5" dy="5.4">Get</tspan><tspan x="867.5" dy="5.4">0 of 3.82s (8.57%)</tspan></text>

<rect class="o2" x="239" y="1062" width="55" height="39"/>
<text x="266.5" y="1070.9" font-size="6.6"><tspan x="266.5">runtime</tspan><tspan x="266.5" dy="8.7">newobject</tspan><tspan x="266.5" dy="8.7">0.32s (0.72%)</tspan><tspan x="266.5" dy="8.7">of 4.68s (10.51%)</tspan></text>

<rect class="g" x="302" y="1054" width="59" height="54"/>
<text x="331.5" y="1063.8" font-size="7.6"><tspan x="331.5">blake3</tspan><tspan x="331.5" dy="10">(*Hasher)</tspan><tspan x="331.5" dy="10">Write</tspan><tspan x="331.5" dy="10">0.51s (1.14%)</tspan><tspan x="331.5" dy="10">of 2.17s (4.87%)</tspan></text>

<rect class="t" x="660" y="1063" width="78" height="37"/>
<text x="699" y="1071.4" font-size="6.4"><tspan x="699">impl</tspan><tspan x="699" dy="8.3">consumeMessageSliceInfo</tspan><tspan x="699" dy="8.3">0.21s (0.47%)</tspan><tspan x="699" dy="8.3">of 2.45s (5.50%)</tspan></text>

<rect class="g" x="746" y="1066" width="57" height="31"/>
<text x="774.5" y="1073.2" font-size="5.3"><tspan x="774.5">impl</tspan><tspan x="774.5" dy="6.8">consumeMessageInfo</tspan><tspan x="774.5" dy="6.8">0.05s (0.11%)</tspan><tspan x="774.5" dy="6.8">of 1.18s (2.65%)</tspan></text>

<rect class="t" x="845" y="1061" width="46" height="41" style="stroke:#b28a62"/>
<text x="868" y="1069.1" font-size="5.6"><tspan x="868">pebble</tspan><tspan x="868" dy="7.2">(*DB)</tspan><tspan x="868" dy="7.2">getInternal</tspan><tspan x="868" dy="7.2">0.12s (0.27%)</tspan><tspan x="868" dy="7.2">of 3.82s (8.57%)</tspan></text>

<rect class="t" x="304" y="1133" width="55" height="38"/>
<text x="331.5" y="1141.4" font-size="6.7"><tspan x="331.5">guts</tspan><tspan x="331.5" dy="8.7">CompressChunk</tspan><tspan x="331.5" dy="8.7">0.26s (0.58%)</tspan><tspan x="331.5" dy="8.7">of 2.76s (6.20%)</tspan></text>

<rect class="t" x="846" y="1133" width="43" height="39"/>
<text x="867.5" y="1140.4" font-size="5.3"><tspan x="867.5">pebble</tspan><tspan x="867.5" dy="7">(*getIter)</tspan><tspan x="867.5" dy="7">Next</tspan><tspan x="867.5" dy="7">0.07s (0.16%)</tspan><tspan x="867.5" dy="7">of 3.30s (7.41%)</tspan></text>

<rect class="t" x="233" y="1206" width="46" height="35"/>
<text x="256" y="1214.1" font-size="5.7"><tspan x="256">guts</tspan><tspan x="256" dy="7.6">ChainingValue</tspan><tspan x="256" dy="7.6">0.14s (0.31%)</tspan><tspan x="256" dy="7.6">of 2.63s (5.90%)</tspan></text>

<rect class="g" x="558" y="1205" width="51" height="37"/>
<text x="583.5" y="1213.3" font-size="6.3"><tspan x="583.5">runtime</tspan><tspan x="583.5" dy="8.3">growslice</tspan><tspan x="583.5" dy="8.3">0.19s (0.43%)</tspan><tspan x="583.5" dy="8.3">of 1.12s (2.51%)</tspan></text>

<rect class="g" x="1008" y="1206" width="40" height="35"/>
<text x="1028" y="1212.6" font-size="4.1"><tspan x="1028">block</tspan><tspan x="1028" dy="6.2">(*Reader)</tspan><tspan x="1028" dy="6.2">Read</tspan><tspan x="1028" dy="6.2">0.03s (0.067%)</tspan><tspan x="1028" dy="6.2">of 0.78s (1.75%)</tspan></text>

<rect class="t" x="230" y="1282" width="52" height="38"/>
<text x="256" y="1290.4" font-size="6.7"><tspan x="256">guts</tspan><tspan x="256" dy="8.7">CompressNode</tspan><tspan x="256" dy="8.7">0.31s (0.7%)</tspan><tspan x="256" dy="8.7">of 2.60s (5.84%)</tspan></text>

<rect class="o2" x="329" y="1275" width="73" height="52" style="fill:#ede0d8;stroke:#b2592a"/>
<text x="365.5" y="1286.4" font-size="8.8"><tspan x="365.5">runtime</tspan><tspan x="365.5" dy="12">mallocgc</tspan><tspan x="365.5" dy="12">0.96s (2.15%)</tspan><tspan x="365.5" dy="12">of 7.56s (16.97%)</tspan></text>

<rect class="g" x="603" y="1282" width="55" height="37"/>
<text x="630.5" y="1292.4" font-size="8.7"><tspan x="630.5">runtime</tspan><tspan x="630.5" dy="11.2">memmove</tspan><tspan x="630.5" dy="11.2">0.83s (1.86%)</tspan></text>

<rect class="g" x="982" y="1279" width="50" height="44"/>
<text x="1007" y="1288.8" font-size="8"><tspan x="1007">atomic</tspan><tspan x="1007" dy="10">(*Int32)</tspan><tspan x="1007" dy="10">Add</tspan><tspan x="1007" dy="10">0.51s (1.14%)</tspan></text>

<rect class="t" x="215" y="1360" width="83" height="63"/>
<text x="256.5" y="1373.2" font-size="12"><tspan x="256.5">guts</tspan><tspan x="256.5" dy="15">CompressNode</tspan><tspan x="256.5" dy="15">func1</tspan><tspan x="256.5" dy="15">2.29s (5.14%)</tspan></text>

<rect class="t" x="306" y="1367" width="119" height="49"/>
<text x="365.5" y="1377.9" font-size="9"><tspan x="365.5">runtime</tspan><tspan x="365.5" dy="11.2">mallocgcSmallScanNoHeader</tspan><tspan x="365.5" dy="11.2">0.77s (1.73%)</tspan><tspan x="365.5" dy="11.2">of 2.91s (6.53%)</tspan></text>

<rect class="t" x="433" y="1370" width="81" height="43"/>
<text x="473.5" y="1379.3" font-size="7.9"><tspan x="473.5">runtime</tspan><tspan x="473.5" dy="10">mallocgcSmallNoscan</tspan><tspan x="473.5" dy="10">0.51s (1.14%)</tspan><tspan x="473.5" dy="10">of 2.23s (5.01%)</tspan></text>

<rect class="t" x="687" y="1377" width="39" height="29"/>
<text x="706.5" y="1383.6" font-size="4.3"><tspan x="706.5">runtime</tspan><tspan x="706.5" dy="6.3">mcall</tspan><tspan x="706.5" dy="6.3">0.02s (0.045%)</tspan><tspan x="706.5" dy="6.3">of 3.06s (6.87%)</tspan></text>

<rect class="g" x="358" y="1463" width="38" height="30"/>
<text x="377" y="1470.2" font-size="4.1"><tspan x="377">runtime</tspan><tspan x="377" dy="6.2">systemstack</tspan><tspan x="377" dy="6.2">0.02s (0.045%)</tspan><tspan x="377" dy="6.2">of 1.78s (4.00%)</tspan></text>

<rect class="g" x="404" y="1458" width="63" height="40"/>
<text x="435.5" y="1469" font-size="10"><tspan x="435.5">runtime</tspan><tspan x="435.5" dy="12.5">nextFreeFast</tspan><tspan x="435.5" dy="12.5">1.09s (2.45%)</tspan></text>

<rect class="g" x="475" y="1457" width="114" height="42"/>
<text x="532" y="1468.7" font-size="10.3"><tspan x="532">runtime</tspan><tspan x="532" dy="12.9">memclrNoHeapPointers</tspan><tspan x="532" dy="12.9">1.34s (3.01%)</tspan></text>

<rect class="t" x="685" y="1462" width="43" height="32"/>
<text x="706.5" y="1469.3" font-size="4.9"><tspan x="706.5">runtime</tspan><tspan x="706.5" dy="7">findRunnable</tspan><tspan x="706.5" dy="7">0.05s (0.11%)</tspan><tspan x="706.5" dy="7">of 2.70s (6.06%)</tspan></text>

<rect class="g" x="351" y="1527" width="52" height="37"/>
<text x="377" y="1534.9" font-size="6.8"><tspan x="377">runtime</tspan><tspan x="377" dy="8.7">pcvalue</tspan><tspan x="377" dy="8.7">0.28s (0.63%)</tspan><tspan x="377" dy="8.7">of 0.78s (1.75%)</tspan></text>

<rect class="g" x="615" y="1528" width="54" height="39"/>
<text x="642" y="1539.8" font-size="8.6"><tspan x="642">runtime</tspan><tspan x="642" dy="10.7">futex</tspan><tspan x="642" dy="10.7">0.68s (1.53%)</tspan></text>

<rect class="g" x="677" y="1524" width="60" height="43"/>
<text x="707" y="1533.3" font-size="8"><tspan x="707">runtime</tspan><tspan x="707" dy="10">stealWork</tspan><tspan x="707" dy="10">0.55s (1.23%)</tspan><tspan x="707" dy="10">of 1.68s (3.77%)</tspan></text>

<rect class="g" x="916" y="1526" width="58" height="40"/>
<text x="945" y="1537.4" font-size="9.6"><tspan x="945">linux</tspan><tspan x="945" dy="12">Syscall6</tspan><tspan x="945" dy="12">1.03s (2.31%)</tspan></text>
</g>
</svg>
</body></html>
